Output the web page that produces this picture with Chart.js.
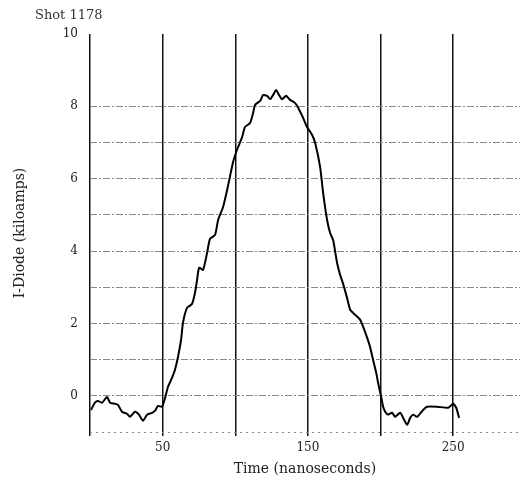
<!DOCTYPE html>
<html>
<head>
<meta charset="utf-8">
<script src="https://cdn.jsdelivr.net/npm/chart.js@4/dist/chart.umd.min.js"></script>
<style>
	body { margin: 0; background: #fff; }
	canvas { display: block; }
</style>
</head>
<body>
<canvas id="myChart" width="520" height="482"></canvas>
<script>
// time in ns, current in kiloamps
const time = [0.7, 3.4, 5.5, 8.3, 11.7, 13.8, 17.2, 19.3, 22, 25.5, 27.5, 31, 33.7, 36.5, 39.3, 42.7, 44.8, 46.8, 49.6, 51.7,
	53.7, 56.5, 58.5, 60.6, 62.7, 64, 66.8, 70.2, 72.3, 73.7, 75.1, 77.8, 80.6, 82.6, 86.1, 88.2, 91.6, 94.4, 98.5, 101.2,
	104.7, 106.7, 110.2, 112.3, 113.6, 117.1, 119.1, 121.9, 124, 126, 128.1, 130.2, 132.2, 135, 137.7, 141.2, 143.3, 146.7, 149.4, 152.9,
	155, 158.4, 160.5, 163.2, 165.3, 167.4, 170.1, 172.2, 174.2, 177, 179.1, 182.5, 186, 188, 190.8, 192.8, 194.9, 197, 198.3, 200.4,
	201.8, 203.2, 205.2, 208, 210, 213.5, 215.6, 218.3, 220.4, 222.5, 225.2, 229.3, 232.1, 239, 246.6, 250, 252.1, 254.1]
const current = [-0.39, -0.19, -0.14, -0.19, -0.03, -0.19, -0.22, -0.25, -0.44, -0.5, -0.58, -0.44, -0.52, -0.69, -0.52, -0.47, -0.41, -0.28, -0.3, -0.06,
	0.25, 0.5, 0.72, 1.08, 1.55, 2.02, 2.43, 2.54, 2.85, 3.2, 3.54, 3.48, 3.95, 4.34, 4.45, 4.86, 5.22, 5.69, 6.46, 6.8,
	7.15, 7.43, 7.54, 7.82, 8.04, 8.15, 8.31, 8.29, 8.2, 8.31, 8.45, 8.31, 8.2, 8.29, 8.18, 8.09, 7.96, 7.68, 7.43, 7.21,
	6.99, 6.33, 5.6, 4.86, 4.5, 4.3, 3.67, 3.34, 3.1, 2.7, 2.38, 2.24, 2.1, 1.91, 1.6, 1.35, 0.99, 0.64, 0.36, -0.03,
	-0.3, -0.44, -0.52, -0.47, -0.58, -0.47, -0.61, -0.8, -0.61, -0.52, -0.58, -0.39, -0.3, -0.3, -0.33, -0.22, -0.33, -0.61]

const xLabels = [50, 150, 250]
const yLabels = [0, 2, 4, 6, 8, 10]
const yNoGrid = [9, 10]

const font = 'DejaVu Serif'

const points = time.map((t, i) => ({ x: t, y: current[i] }))

// "Shot 1178" sits left of the plot, above the y labels
const shotTitle = {
	id: 'shotTitle',
	afterDraw(chart) {
		const c = chart.ctx
		c.save()
		c.font = '13px "' + font + '"'
		c.fillStyle = '#333'
		c.textBaseline = 'middle'
		c.fillText('Shot 1178', 35, 16)
		c.restore()
	},
}

var ctx = document.getElementById('myChart').getContext('2d')
var myChart = new Chart(ctx, {
	type: 'scatter',
	data: {
		datasets: [
			{
				data: points,
				showLine: true,
				borderColor: '#000',
				borderWidth: 2,
				pointRadius: 0,
				tension: 0.2,
			},
		],
	},
	options: {
		responsive: false,
		animation: false,
		layout: { padding: { top: 34, left: 0, right: 0, bottom: 0 } },
		plugins: {
			legend: { display: false },
			tooltip: { enabled: false },
		},
		scales: {
			x: {
				type: 'linear',
				min: 0,
				max: 296,
				afterFit: scale => {
					scale.height = 50
				},
				ticks: {
					stepSize: 50,
					includeBounds: false,
					autoSkip: false,
					maxRotation: 0,
					padding: 5,
					color: '#222',
					font: { family: font, size: 12 },
					callback: v => (xLabels.includes(v) ? v : ''),
				},
				grid: {
					color: '#111',
					lineWidth: 1.5,
					tickLength: 4,
					tickColor: '#111',
				},
				border: { display: false },
				title: {
					display: true,
					text: 'Time (nanoseconds)',
					color: '#222',
					font: { family: font, size: 14 },
					padding: { top: 0, bottom: 4 },
				},
			},
			y: {
				min: -1,
				max: 10,
				afterFit: scale => {
					scale.width = 90
				},
				ticks: {
					stepSize: 1,
					autoSkip: false,
					padding: 12,
					color: '#222',
					font: { family: font, size: 12 },
					callback: v => (yLabels.includes(v) ? v : ''),
				},
				grid: {
					drawTicks: false,
					lineWidth: 1,
					color: c => (c.tick && yNoGrid.includes(c.tick.value) ? 'rgba(0,0,0,0)' : '#8a8a8a'),
				},
				border: {
					display: false,
					dash: c => (c.tick && c.tick.value === -1 ? [2, 4] : [7, 2, 2, 2]),
				},
				title: {
					display: true,
					text: 'I-Diode (kiloamps)',
					color: '#222',
					font: { family: font, size: 14 },
					padding: { top: 12, bottom: 0 },
				},
			},
		},
	},
	plugins: [shotTitle],
})
</script>
</body>
</html>
